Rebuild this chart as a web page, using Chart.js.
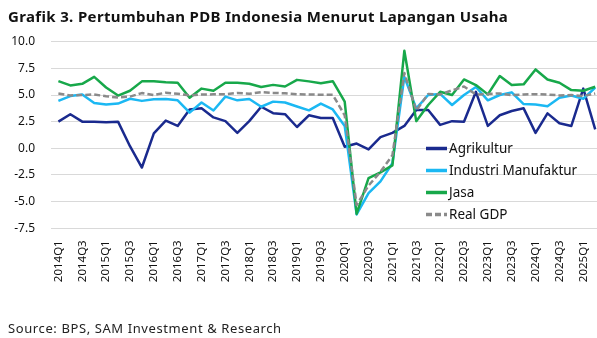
<!DOCTYPE html>
<html lang="id">
<head>
<meta charset="UTF-8">
<title>Grafik 3. Pertumbuhan PDB Indonesia Menurut Lapangan Usaha</title>
<script src="https://cdn.jsdelivr.net/npm/chart.js@4.4.1/dist/chart.umd.min.js"></script>
<style>
  body { margin: 0; width: 597px; height: 338px; overflow: hidden; background: #fff; font-family: 'Noto Sans', sans-serif; }
  #title { position: absolute; left: 8px; top: 6px; font-size: 15px; letter-spacing: 0.35px; font-weight: bold; color: #111; white-space: nowrap; }
  #source { position: absolute; left: 8px; top: 319px; font-size: 13px; letter-spacing: 0.6px; color: #222; white-space: nowrap; }
  #wrap { position: absolute; left: 0; top: 0; width: 597px; height: 338px; }
</style>
</head>
<body>
<div id="wrap"><canvas id="chart" width="597" height="338"></canvas></div>
<div id="title">Grafik 3. Pertumbuhan PDB Indonesia Menurut Lapangan Usaha</div>
<div id="source">Source: BPS, SAM Investment &amp; Research</div>
<script>
const quarters = [
  '2014Q1','2014Q2','2014Q3','2014Q4','2015Q1','2015Q2','2015Q3','2015Q4',
  '2016Q1','2016Q2','2016Q3','2016Q4','2017Q1','2017Q2','2017Q3','2017Q4',
  '2018Q1','2018Q2','2018Q3','2018Q4','2019Q1','2019Q2','2019Q3','2019Q4',
  '2020Q1','2020Q2','2020Q3','2020Q4','2021Q1','2021Q2','2021Q3','2021Q4',
  '2022Q1','2022Q2','2022Q3','2022Q4','2023Q1','2023Q2','2023Q3','2023Q4',
  '2024Q1','2024Q2','2024Q3','2024Q4','2025Q1','2025Q2'
];
const agrikultur = [
  2.5, 3.2, 2.5, 2.5, 2.45, 2.5, 0.2, -1.8,
  1.4, 2.6, 2.1, 3.65, 3.75, 2.9, 2.55, 1.45,
  2.55, 3.9, 3.3, 3.2, 2.0, 3.1, 2.85, 2.85,
  0.15, 0.45, -0.1, 1.05, 1.45, 2.1, 3.6, 3.6,
  2.2, 2.55, 2.5, 5.3, 2.1, 3.1, 3.5, 3.75,
  1.45, 3.28, 2.35, 2.1, 5.6, 1.78
];
const industri = [
  4.45, 4.9, 5.05, 4.25, 4.1, 4.2, 4.65, 4.45,
  4.6, 4.63, 4.5, 3.35, 4.3, 3.55, 4.85, 4.5,
  4.62, 3.9, 4.38, 4.3, 3.92, 3.56, 4.2, 3.65,
  2.1, -6.2, -4.2, -3.1, -1.4, 6.7, 3.75, 5.0,
  5.1, 4.06, 5.0, 5.75, 4.5, 5.0, 5.25, 4.15,
  4.1, 3.95, 4.75, 4.95, 4.65, 5.7
];
const jasa = [
  6.3, 5.9, 6.05, 6.7, 5.7, 4.95, 5.4, 6.28,
  6.3, 6.2, 6.15, 4.75, 5.6, 5.4, 6.15, 6.15,
  6.05, 5.75, 5.95, 5.8, 6.42, 6.28, 6.1, 6.3,
  4.37, -6.15, -2.8, -2.25, -1.6, 9.15, 2.55, 4.06,
  5.3, 5.0, 6.46, 5.93, 5.06, 6.78, 5.93, 6.0,
  7.4, 6.46, 6.15, 5.46, 5.4, 5.78
];
const realGdp = [
  5.14, 4.96, 5.0, 5.05, 4.88, 4.76, 4.85, 5.18,
  5.0, 5.22, 5.12, 4.97, 5.05, 5.06, 5.08, 5.19,
  5.12, 5.27, 5.2, 5.16, 5.08, 5.05, 5.03, 5.02,
  3.1, -5.32, -3.49, -2.2, -0.65, 7.07, 3.55, 5.1,
  5.05, 5.44, 5.8, 5.05, 5.1, 5.15, 4.98, 5.05,
  5.08, 5.05, 4.96, 5.0, 4.9, 5.15
];
const yTicks = [-7.5, -5, -2.5, 0, 2.5, 5, 7.5, 10];

const fontFamily = "'Noto Sans', sans-serif";
const toPoints = arr => arr.map((v, i) => ({ x: i, y: v }));

// legend drawn inside the plot, bottom right
const insideLegend = {
  id: 'insideLegend',
  afterDraw(chart) {
    const ctx = chart.ctx;
    ctx.save();
    ctx.font = '13.5px ' + fontFamily;
    ctx.textBaseline = 'middle';
    ctx.fillStyle = '#111';
    chart.data.datasets.forEach((ds, i) => {
      const y = 148.5 + i * 22;
      ctx.beginPath();
      ctx.strokeStyle = ds.borderColor;
      ctx.lineWidth = 3.5;
      ctx.setLineDash(ds.borderDash || []);
      ctx.moveTo(426, y);
      ctx.lineTo(447, y);
      ctx.stroke();
      ctx.setLineDash([]);
      ctx.fillText(ds.label, 449, y + 1);
    });
    ctx.restore();
  }
};

new Chart(document.getElementById('chart'), {
  type: 'line',
  data: {
    datasets: [
      { label: 'Agrikultur', data: toPoints(agrikultur), borderColor: '#1a2a8e', order: 4 },
      { label: 'Industri Manufaktur', data: toPoints(industri), borderColor: '#1bb8f3', order: 3 },
      { label: 'Jasa', data: toPoints(jasa), borderColor: '#17a84a', order: 2 },
      { label: 'Real GDP', data: toPoints(realGdp), borderColor: '#8a8a8a', borderDash: [6, 3], order: 1 }
    ]
  },
  options: {
    responsive: false,
    animation: false,
    devicePixelRatio: 1,
    elements: {
      point: { radius: 0 },
      line: { borderWidth: 2.5, tension: 0, fill: false, borderJoinStyle: 'round' }
    },
    layout: { padding: { top: 41.7, bottom: 34.7, left: 0, right: 0 } },
    plugins: { legend: { display: false }, tooltip: { enabled: false } },
    scales: {
      x: {
        type: 'linear',
        min: -0.62,
        max: 45.15,
        grid: { display: false, drawTicks: false },
        border: { display: false },
        afterBuildTicks: s => {
          s.ticks = quarters.map((q, i) => ({ value: i })).filter(t => t.value % 2 === 0);
        },
        afterFit: s => { s.height = 75; s.paddingLeft = 0; s.paddingRight = 0; },
        ticks: {
          autoSkip: false,
          minRotation: 90,
          maxRotation: 90,
          padding: 12,
          color: '#111',
          font: { family: fontFamily, size: 11.5 },
          callback: v => quarters[v]
        }
      },
      y: {
        min: -7.5,
        max: 10,
        grid: { color: '#d9d9d9', lineWidth: 1, drawTicks: false },
        border: { display: false },
        afterBuildTicks: s => { s.ticks = yTicks.map(v => ({ value: v })); },
        afterFit: s => { s.width = 51; },
        ticks: {
          padding: 16,
          color: '#111',
          font: { family: fontFamily, size: 12 },
          callback: v => v.toFixed(1)
        }
      }
    }
  },
  plugins: [insideLegend]
});
</script>
</body>
</html>
